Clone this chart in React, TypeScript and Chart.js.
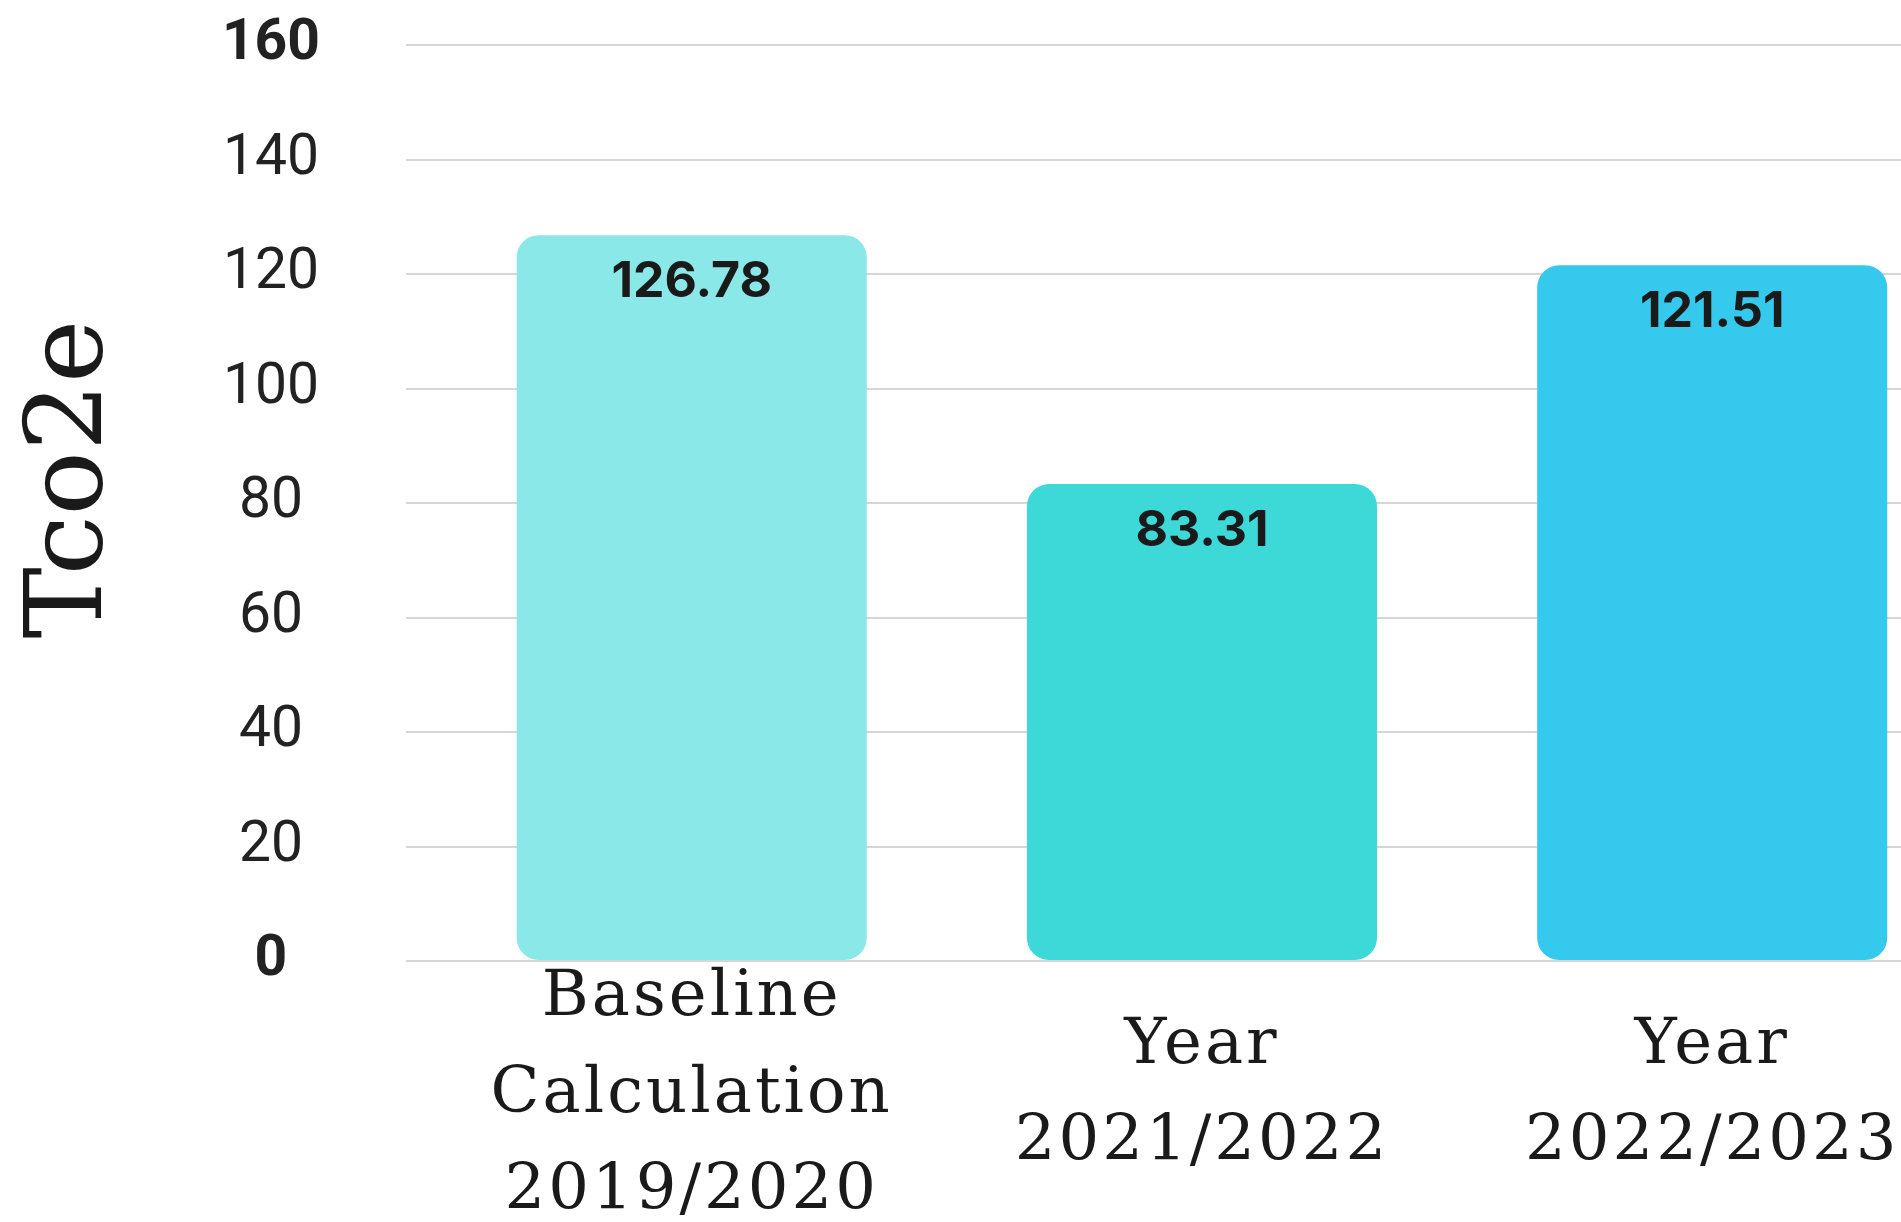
import { useEffect, useRef } from "react";
import { Chart, registerables } from "chart.js";

Chart.register(...registerables);

const categories: string[][] = [
  ["Baseline", "Calculation", "2019/2020"],
  ["Year", "2021/2022"],
  ["Year", "2022/2023"],
];
const values: number[] = [126.78, 83.31, 121.51];
const barColors: string[] = ["#8AE8E8", "#3DD9D9", "#35C9EE"];
const yTicks: number[] = [0, 20, 40, 60, 80, 100, 120, 140, 160];
const boldTicks: number[] = [0, 160];
const yTitle = "Tco2e";

export default function App() {
  const ref = useRef<HTMLCanvasElement | null>(null);

  useEffect(() => {
    if (!ref.current) return;

    const valueLabels = {
      id: "valueLabels",
      afterDatasetsDraw(chart: any) {
        const ctx = chart.ctx;
        const meta = chart.getDatasetMeta(0);
        ctx.save();
        ctx.font = "bold 50px Inter";
        ctx.fillStyle = "#1a1a1a";
        ctx.textAlign = "center";
        ctx.textBaseline = "top";
        meta.data.forEach((el: any, i: number) => {
          ctx.fillText(values[i].toFixed(2), el.x, el.y + 22);
        });
        ctx.restore();
      },
    };

    const axisTitle = {
      id: "axisTitle",
      afterDraw(chart: any) {
        const ctx = chart.ctx;
        const area = chart.chartArea;
        const midY = (area.top + area.bottom) / 2 - 24;
        ctx.save();
        ctx.translate(73, midY);
        ctx.rotate(-Math.PI / 2);
        ctx.font = "107px 'DejaVu Serif'";
        ctx.fillStyle = "#1a1a1a";
        ctx.textAlign = "center";
        ctx.textBaseline = "middle";
        ctx.fillText(yTitle, 0, 0);
        ctx.restore();
      },
    };

    const categoryLabels = {
      id: "categoryLabels",
      afterDraw(chart: any) {
        const ctx = chart.ctx;
        const xs = chart.scales.x;
        const centerY = chart.chartArea.bottom + 134;
        const lineH = 97;
        ctx.save();
        ctx.font = "64px 'DejaVu Serif'";
        (ctx as any).letterSpacing = "3px";
        ctx.fillStyle = "#1a1a1a";
        ctx.textAlign = "center";
        ctx.textBaseline = "middle";
        categories.forEach((lines, i) => {
          const x = xs.getPixelForValue(i);
          const start = centerY - ((lines.length - 1) * lineH) / 2;
          lines.forEach((line, j) => {
            ctx.fillText(line, x, start + j * lineH);
          });
        });
        ctx.restore();
      },
    };

    const chart = new Chart(ref.current, {
      type: "bar",
      data: {
        datasets: [
          {
            data: values.map((v, i) => ({ x: i, y: v })) as any,
            backgroundColor: barColors,
            borderRadius: 22,
            borderSkipped: false,
            barPercentage: 0.686,
            categoryPercentage: 1,
          },
        ],
      },
      options: {
        animation: false,
        responsive: true,
        maintainAspectRatio: false,
        layout: { padding: { top: 45, bottom: 261, left: 0, right: 0 } },
        plugins: {
          legend: { display: false },
          tooltip: { enabled: false },
        },
        scales: {
          x: {
            type: "linear",
            display: false,
            offset: false,
            min: -0.56,
            max: 2.37,
            afterBuildTicks: (s: any) => {
              s.ticks = categories.map((_, i) => ({ value: i }));
            },
          },
          y: {
            min: 0,
            max: 160,
            afterBuildTicks: (s: any) => {
              s.ticks = yTicks.map((v) => ({ value: v }));
            },
            afterFit: (s: any) => {
              s.width = 406;
              s.paddingTop = 0;
              s.paddingBottom = 0;
            },
            ticks: {
              padding: 86,
              crossAlign: "center",
              color: "#222222",
              font: (c: any) => ({
                family: "Roboto",
                size: 57,
                weight: boldTicks.includes(c.tick?.value) ? "bold" : "normal",
              }),
            },
            grid: { color: "#d6d6d6", lineWidth: 2, drawTicks: false },
            border: { display: false },
            title: { display: false },
          },
        },
      },
      plugins: [valueLabels, axisTitle, categoryLabels],
    });

    return () => chart.destroy();
  }, []);

  return (
    <div
      style={{
        position: "fixed",
        left: 0,
        top: 0,
        width: "100vw",
        height: "100vh",
        background: "#ffffff",
        overflow: "hidden",
      }}
    >
      <canvas ref={ref} />
    </div>
  );
}
